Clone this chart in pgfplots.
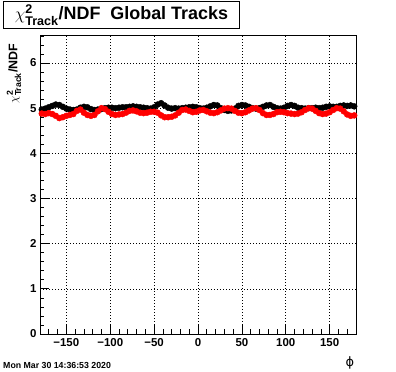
\documentclass[border=0pt]{standalone}
\usepackage{amsmath}
\usepackage{fontspec}
\setmainfont{Liberation Sans}
\newfontfamily\dejavu{DejaVu Sans}
\usepackage{pgfplots}
\pgfplotsset{compat=1.18}
\pgfplotstableread{
phi val
-178 4.97
-174 4.99
-170 5.02
-166 5.05
-162 5.08
-158 5.07
-154 5.03
-150 4.99
-146 4.97
-142 4.96
-138 4.97
-134 5.01
-130 5.03
-126 5.02
-122 4.98
-118 4.96
-114 4.97
-110 4.98
-106 5.00
-102 5.01
-98 5.01
-94 5.00
-90 5.01
-86 5.02
-82 5.02
-78 5.03
-74 5.04
-70 5.03
-66 5.02
-62 5.01
-58 5.00
-54 4.99
-50 5.02
-46 5.08
-42 5.11
-38 5.06
-34 5.01
-30 4.99
-26 5.00
-22 4.99
-18 5.00
-14 5.01
-10 5.02
-6 5.03
-2 5.02
2 5.00
6 4.99
10 5.01
14 5.04
18 5.07
22 5.06
26 5.00
30 4.96
34 4.94
38 4.95
42 4.99
46 5.05
50 5.07
54 5.06
58 5.03
62 5.00
66 4.99
70 5.00
74 5.03
78 5.06
82 5.07
86 5.03
90 5.00
94 4.99
98 5.01
102 5.05
106 5.07
110 5.05
114 5.01
118 5.00
122 4.99
126 5.00
130 5.00
134 5.01
138 5.00
142 5.01
146 5.03
150 5.04
154 5.03
158 5.03
162 5.05
166 5.06
170 5.05
174 5.06
178 5.04
}\blackdata
\pgfplotstableread{
phi val
-178 4.88
-174 4.87
-170 4.89
-166 4.87
-162 4.83
-158 4.78
-154 4.80
-150 4.83
-146 4.85
-142 4.87
-138 4.94
-134 4.97
-130 4.90
-126 4.85
-122 4.83
-118 4.85
-114 4.93
-110 5.00
-106 4.98
-102 4.92
-98 4.87
-94 4.85
-90 4.86
-86 4.87
-82 4.90
-78 4.94
-74 4.95
-70 4.93
-66 4.90
-62 4.89
-58 4.90
-54 4.92
-50 4.92
-46 4.90
-42 4.84
-38 4.80
-34 4.80
-30 4.81
-26 4.84
-22 4.90
-18 4.96
-14 4.97
-10 4.94
-6 4.91
-2 4.92
2 4.95
6 4.96
10 4.93
14 4.90
18 4.89
22 4.91
26 4.95
30 4.99
34 5.00
38 4.99
42 4.94
46 4.90
50 4.89
54 4.91
58 4.95
62 4.99
66 5.00
70 4.96
74 4.89
78 4.85
82 4.85
86 4.87
90 4.91
94 4.92
98 4.91
102 4.89
106 4.88
110 4.87
114 4.88
118 4.91
122 4.96
126 5.00
130 4.99
134 4.94
138 4.89
142 4.87
146 4.88
150 4.91
154 4.96
158 5.00
162 4.99
166 4.93
170 4.86
174 4.83
178 4.84
}\reddata
\begin{document}
\begin{tikzpicture}
\path[use as bounding box] (0bp,0bp) rectangle (396bp,372bp);
\begin{axis}[
  at={(40bp,38bp)}, anchor=south west,
  width=316bp, height=299bp, scale only axis,
  xmin=-180, xmax=180, ymin=0, ymax=6.62,
  xtick={-150,-100,-50,0,50,100,150},
  xticklabels={−150,−100,−50,0,50,100,150},
  minor xtick={-170,-160,-140,-130,-120,-110,-90,-80,-70,-60,-40,-30,-20,-10,10,20,30,40,60,70,80,90,110,120,130,140,160,170},
  ytick={0,1,2,3,4,5,6},
  minor ytick={0.2,0.4,0.6,0.8,1.2,1.4,1.6,1.8,2.2,2.4,2.6,2.8,3.2,3.4,3.6,3.8,4.2,4.4,4.6,4.8,5.2,5.4,5.6,5.8,6.2,6.4,6.6},
  xtick pos=bottom, ytick pos=left,
  tick align=inside,
  major tick length=9bp, minor tick length=4.5bp,
  every tick/.style={black, line width=0.7bp},
  axis line style={line width=0.8bp},
  xmajorgrids, ymajorgrids,
  major grid style={black, line width=0.6bp, dash pattern=on 0.8bp off 2.2bp},
  /pgf/number format/assume math mode=true,
  tick label style={font=\bfseries\fontsize{11.5}{11.5}\selectfont},
  xticklabel style={yshift=-1bp},
  xlabel={\dejavu ϕ},
  xlabel style={at={(axis description cs:0.981,-0.097)}, anchor=center, font=\fontsize{13}{13}\selectfont},
  ylabel={\bfseries$\chi^{\text{\bfseries 2}}_{\text{\bfseries Track}}$/NDF},
  ylabel style={at={(axis description cs:-0.082,0.983)}, anchor=east, font=\fontsize{12.5}{12.5}\selectfont},
]
\addplot[only marks, mark=*, mark size=3bp, color=black, mark options={draw=black, fill=black}] table[x=phi, y=val] {\blackdata};
\addplot[only marks, mark=*, mark size=3bp, color=red, mark options={draw=red, fill=red}] table[x=phi, y=val] {\reddata};
\end{axis}
\node[draw=black, line width=0.8bp, fill=white, anchor=north west, minimum width=236bp, minimum height=27bp, inner sep=0pt, font=\bfseries\fontsize{18}{18}\selectfont] at (3bp,371bp) {$\chi^{\text{\bfseries 2}}_{\text{\bfseries Track}}$/NDF\ \ Global Tracks};
\node[anchor=west, inner sep=0pt, font=\bfseries\fontsize{8.8}{8.8}\selectfont] at (3bp,7bp) {Mon Mar 30 14:36:53 2020};
\end{tikzpicture}
\end{document}
